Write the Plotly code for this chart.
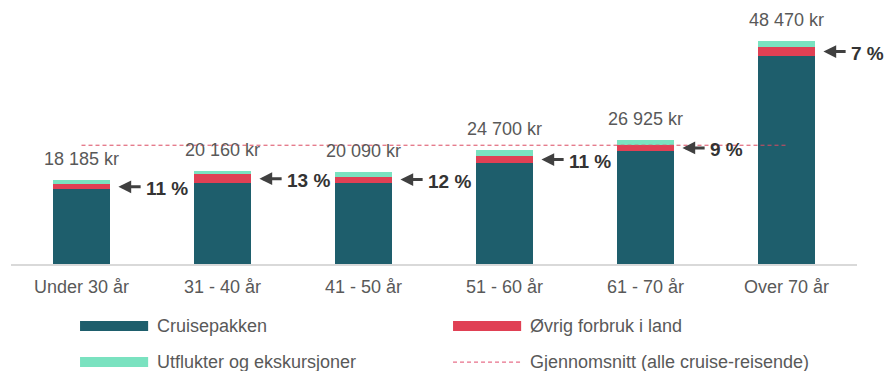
import plotly.graph_objects as go

# Age groups and average spend per cruise traveller (NOK), split by category
categories = ["Under 30 år", "31 - 40 år", "41 - 50 år", "51 - 60 år", "61 - 70 år", "Over 70 år"]
cruisepakken = [16185, 17540, 17680, 21983, 24502, 45077]
ovrig_forbruk = [1150, 1970, 1310, 1417, 1423, 2163]
utflukter = [850, 650, 1100, 1300, 1000, 1230]
gjennomsnitt = 25800

series_names = ["Cruisepakken", "Øvrig forbruk i land", "Utflukter og ekskursjoner",
                "Gjennomsnitt (alle cruise-reisende)"]

TEAL = "#1e5e6c"
RED = "#e04054"
MINT = "#7ae2c0"
AVG = "#dc4a60"
GREY = "#595959"
DARK = "#333333"
FONT = "Liberation Sans, Arial, sans-serif"

x = list(range(len(categories)))
totals = [a + b + c for a, b, c in zip(cruisepakken, ovrig_forbruk, utflukter)]
shares = [round(100 * (b + c) / t) for b, c, t in zip(ovrig_forbruk, utflukter, totals)]

fig = go.Figure()
bar_w = 0.404
for vals, name, col in [(cruisepakken, series_names[0], TEAL),
                        (ovrig_forbruk, series_names[1], RED),
                        (utflukter, series_names[2], MINT)]:
    fig.add_trace(go.Bar(x=x, y=vals, name=name, width=bar_w,
                         marker=dict(color=col, line=dict(width=0))))

fig.add_trace(go.Scatter(x=[x[0], x[-1]], y=[gjennomsnitt, gjennomsnitt], mode="lines",
                         name=series_names[3],
                         line=dict(color=AVG, width=1, dash="4px,3px")))

annotations = []
for i, (t, s, p, o) in enumerate(zip(totals, shares, cruisepakken, ovrig_forbruk)):
    # total above each stack
    annotations.append(dict(x=i, y=t, xref="x", yref="y", text=f"{t:,}".replace(",", " ") + " kr",
                            showarrow=False, yanchor="bottom", yshift=9,
                            font=dict(family=FONT, size=18, color=GREY)))
    # arrow pointing at the non-package share
    ymid = p + o / 2
    annotations.append(dict(x=i + 0.262, y=ymid, ax=i + 0.43, ay=ymid, xref="x", yref="y",
                            axref="x", ayref="y", text="", showarrow=True,
                            arrowhead=2, arrowsize=0.85, arrowwidth=3, arrowcolor="#404040"))
    annotations.append(dict(x=i + 0.44, y=ymid, xref="x", yref="y", text=f"<b>{s} %</b>",
                            showarrow=False, xanchor="left", yshift=-2,
                            font=dict(family=FONT, size=19, color=DARK)))

# legend drawn as swatches and labels beneath the axis
shapes = []
legend_items = [
    (0.0816, -0.254, TEAL, series_names[0], "rect"),
    (0.5225, -0.254, RED, series_names[1], "rect"),
    (0.0816, -0.402, MINT, series_names[2], "rect"),
    (0.5225, -0.402, "#e8708a", series_names[3], "line"),
]
for lx, ly, col, label, kind in legend_items:
    if kind == "rect":
        shapes.append(dict(type="rect", xref="paper", yref="paper", x0=lx, x1=lx + 0.0805,
                           y0=ly - 0.0205, y1=ly + 0.0205, fillcolor=col, line=dict(width=0)))
    else:
        shapes.append(dict(type="line", xref="paper", yref="paper", x0=lx, x1=lx + 0.0805,
                           y0=ly, y1=ly, line=dict(color=col, width=1.3, dash="4px,3px")))
    annotations.append(dict(x=lx + 0.089, y=ly, xref="paper", yref="paper", text=label,
                            showarrow=False, xanchor="left", yanchor="middle",
                            font=dict(family=FONT, size=18, color=GREY)))

fig.update_layout(
    width=884, height=371,
    margin=dict(l=11, r=27, t=20, b=107),
    barmode="stack",
    showlegend=False,
    plot_bgcolor="white", paper_bgcolor="white",
    font=dict(family=FONT, size=18, color=GREY),
    xaxis=dict(range=[-0.5, 5.5], tickvals=x, ticktext=categories, showgrid=False,
               zeroline=False, showline=True, linecolor="#d9d9d9", linewidth=2,
               ticks="", ticklabelstandoff=5, tickfont=dict(size=18, color=GREY),
               fixedrange=True),
    yaxis=dict(range=[0, 53000], visible=False, showgrid=False, zeroline=False),
    annotations=annotations,
    shapes=shapes,
)

fig.write_html("out.html")
